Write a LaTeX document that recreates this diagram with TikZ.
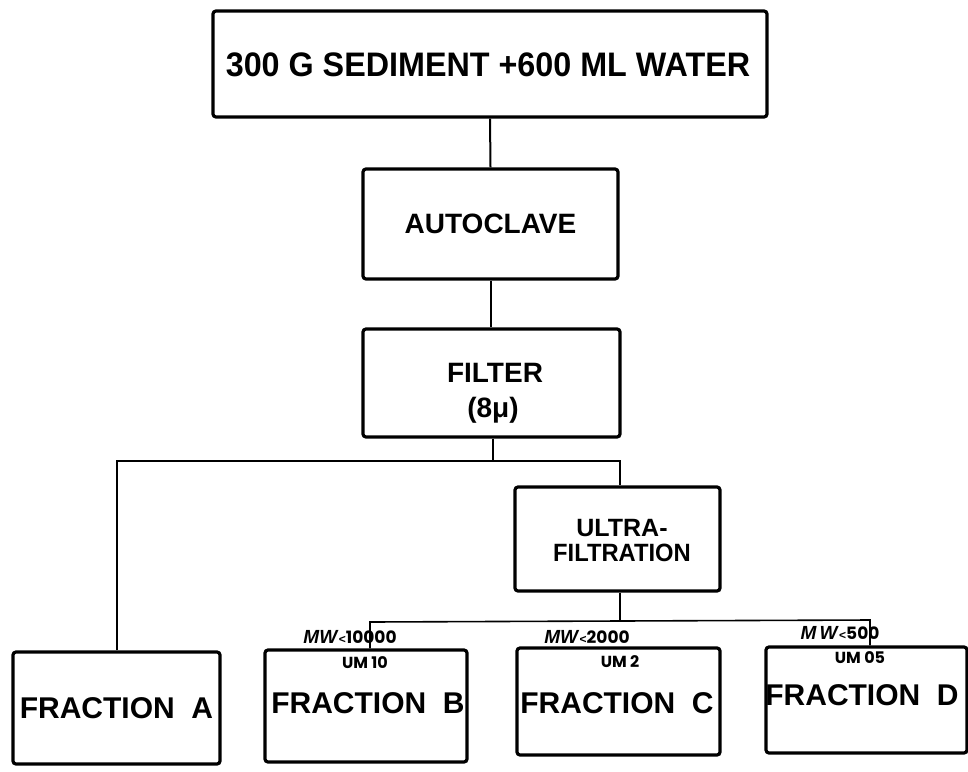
\documentclass[tikz,border=0pt]{standalone}
\usepackage{fontspec}
\setmainfont{Liberation Sans}
\newfontfamily\geofont{Poppins}
\usetikzlibrary{calc}
\tikzset{
  procbox/.style={draw, line width=3.2pt, rounded corners=3pt, inner sep=0pt, font=\bfseries},
  conn/.style={line width=2pt},
  lbl/.style={inner sep=0pt, anchor=center},
}
\begin{document}
\begin{tikzpicture}[x=1pt,y=-1pt]
\useasboundingbox (0,0) rectangle (968,771);
% boxes
\node[procbox, minimum width=554pt, minimum height=106pt] (top) at (490,64) {};
\node[lbl, font=\bfseries\fontsize{34}{38}\selectfont] (topt) at (488,65) {\scalebox{0.95}[1]{300 G SEDIMENT +600 ML WATER}};
\node[procbox, minimum width=255pt, minimum height=110pt, font=\bfseries\fontsize{28}{32}\selectfont] (auto) at (490.5,224) {AUTOCLAVE};
\node[procbox, minimum width=257pt, minimum height=108pt] (filt) at (491.5,383) {};
\node[lbl, font=\bfseries\fontsize{28}{30}\selectfont] (filtA) at (495,373) {FILTER};
\node[lbl, font=\bfseries\fontsize{28}{30}\selectfont] (filtB) at (493,410) {(8μ)};
\node[procbox, minimum width=205pt, minimum height=104pt] (ultra) at (617.5,539) {};
\node[lbl, font=\bfseries\fontsize{25}{28}\selectfont] (ultA) at (622,528) {ULTRA-};
\node[lbl, font=\bfseries\fontsize{25}{28}\selectfont] (ultB) at (622,553) {\scalebox{0.95}[1]{FILTRATION}};
\node[procbox, minimum width=207pt, minimum height=112pt, font=\bfseries\fontsize{30}{34}\selectfont] (fa) at (116.5,708) {FRACTION\ \ A};
\node[procbox, minimum width=202pt, minimum height=112pt] (fb) at (366,706) {};
\node[procbox, minimum width=203pt, minimum height=107pt] (fc) at (618.5,701.5) {};
\node[procbox, minimum width=201pt, minimum height=106pt] (fd) at (866.5,700) {};
% box texts
\node[lbl, font=\bfseries\fontsize{30}{34}\selectfont] (fbt) at (368,703) {FRACTION\ \ B};
\node[lbl, font=\bfseries\fontsize{30}{34}\selectfont] (fct) at (617,703) {FRACTION\ \ C};
\node[lbl, font=\bfseries\fontsize{30}{34}\selectfont] (fdt) at (862,695) {FRACTION\ \ D};
\node[lbl, font=\geofont\bfseries\fontsize{16}{18}\selectfont] (fbu) at (365,663) {UM 10};
\node[lbl, font=\geofont\bfseries\fontsize{16}{18}\selectfont] (fcu) at (620,662) {UM 2};
\node[lbl, font=\geofont\bfseries\fontsize{16}{18}\selectfont] (fdu) at (860,658) {UM 05};
% connectors
\coordinate (j1) at (493,461);
\coordinate (jl) at (117,461);
\coordinate (jr) at (620,461);
\coordinate (j2) at (620,621);
\coordinate (kl) at (370,622);
\coordinate (kr) at (870,620);
\draw[conn] (top.south) -- (auto.north);
\draw[conn] (auto.south) -- (auto.south |- filt.north);
\draw[conn] (filt.south -| j1) -- (j1);
\draw[conn] (fa.north -| jl) -- (jl) -- (jr) -- (ultra.north -| jr);
\draw[conn] (ultra.south -| j2) -- (j2);
\draw[conn, line width=1.6pt] (fb.north -| kl) -- (kl) -- (kr) -- (fd.north -| kr);
% MW labels
\node[lbl] (mwb) at (350,637) {{\fontsize{19}{20}\selectfont\bfseries\itshape MW}\,{\bfseries\fontsize{12}{14}\selectfont<}{\geofont\bfseries\fontsize{17}{18}\selectfont 10000}};
\node[lbl] (mwc) at (587,637) {{\fontsize{19}{20}\selectfont\bfseries\itshape MW}\,{\bfseries\fontsize{12}{14}\selectfont<}{\geofont\bfseries\fontsize{17}{18}\selectfont 2000}};
\node[lbl] (mwd) at (840,633) {{\fontsize{19}{20}\selectfont\bfseries\itshape M\,W}\,{\bfseries\fontsize{12}{14}\selectfont<}{\geofont\bfseries\fontsize{17}{18}\selectfont 500}};
\end{tikzpicture}
\end{document}
